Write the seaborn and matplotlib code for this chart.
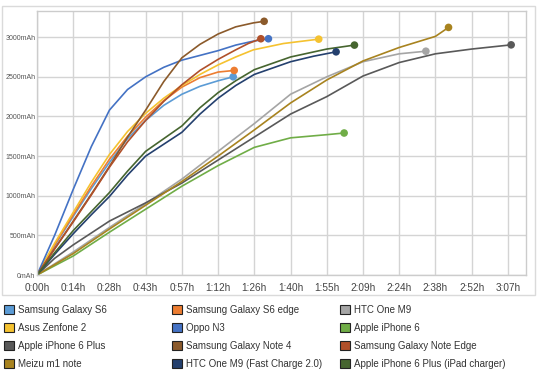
import matplotlib.pyplot as plt
import matplotlib.patches as mpatches
import pandas as pd
import seaborn as sns

sns.set_theme(style="whitegrid")
plt.rcParams['font.family'] = ['Liberation Sans', 'DejaVu Sans']

names = ["Samsung Galaxy S6", "Samsung Galaxy S6 edge", "HTC One M9",
         "Asus Zenfone 2", "Oppo N3", "Apple iPhone 6",
         "Apple iPhone 6 Plus", "Samsung Galaxy Note 4", "Samsung Galaxy Note Edge",
         "Meizu m1 note", "HTC One M9 (Fast Charge 2.0)", "Apple iPhone 6 Plus (iPad charger)"]
colors = ["#5b9bd5", "#ed7d31", "#a5a5a5",
          "#f5c230", "#4472c4", "#70ad47",
          "#595959", "#8b5a2b", "#b0502a",
          "#a8831f", "#24406e", "#46652f"]

# time in minutes, charge in mAh
s6_t = [0, 7, 14.4, 21.6, 28.8, 36, 43.2, 50.4, 57.6, 64.8, 72, 78]
s6_v = [0, 370, 740, 1090, 1420, 1720, 1950, 2140, 2280, 2380, 2450, 2500]
s6e_t = [0, 7, 14.4, 21.6, 28.8, 36, 43.2, 50.4, 57.6, 64.8, 72, 78.4]
s6e_v = [0, 380, 760, 1120, 1460, 1750, 1990, 2200, 2370, 2490, 2560, 2580]
htc_t = [0, 14.4, 28.8, 43.2, 57.6, 72, 86.4, 100.8, 115.2, 129.6, 144, 154.6]
htc_v = [0, 290, 600, 900, 1210, 1560, 1910, 2280, 2500, 2690, 2790, 2823]
asus_t = [0, 7, 14.4, 21.6, 28.8, 36, 43.2, 50.4, 57.6, 64.8, 72, 79, 86, 98, 112]
asus_v = [0, 400, 790, 1170, 1520, 1810, 2040, 2230, 2390, 2530, 2650, 2750, 2840, 2920, 2975]
oppo_t = [0, 7, 14.4, 21.6, 28.8, 36, 43.2, 50.4, 57.6, 64.8, 72, 79, 86, 92]
oppo_v = [0, 500, 1080, 1620, 2080, 2340, 2500, 2620, 2710, 2770, 2830, 2900, 2950, 2980]
ip6_t = [0, 14.4, 28.8, 43.2, 57.6, 72, 86.4, 100.8, 115.2, 122.1]
ip6_v = [0, 240, 540, 830, 1120, 1380, 1610, 1730, 1770, 1791]
ip6p_t = [0, 7, 14.4, 28.8, 43.2, 57.6, 72, 86.4, 100.8, 115.2, 129.6, 144, 158.4, 172.8, 188.5]
ip6p_v = [0, 210, 380, 680, 910, 1160, 1450, 1740, 2030, 2250, 2510, 2680, 2790, 2850, 2903]
note4_t = [0, 7, 14.4, 21.6, 28.8, 36, 43.2, 50.4, 57.6, 64.8, 72, 79, 86, 90.3]
note4_v = [0, 330, 680, 1020, 1370, 1740, 2080, 2440, 2740, 2910, 3040, 3130, 3180, 3200]
nedge_t = [0, 7, 14.4, 21.6, 28.8, 36, 43.2, 50.4, 57.6, 64.8, 72, 79, 84, 89]
nedge_v = [0, 330, 670, 1010, 1360, 1680, 1950, 2190, 2400, 2580, 2720, 2840, 2920, 2980]
meizu_t = [0, 14.4, 28.8, 43.2, 57.6, 72, 86.4, 100.8, 115.2, 129.6, 144, 158.4, 163.6]
meizu_v = [0, 270, 580, 880, 1180, 1500, 1830, 2170, 2460, 2700, 2870, 3010, 3123]
htcf_t = [0, 7, 14.4, 21.6, 28.8, 36, 43.2, 50.4, 57.6, 64.8, 72, 79, 86.4, 100.8, 110, 118.9]
htcf_v = [0, 260, 520, 760, 990, 1260, 1500, 1650, 1800, 2030, 2230, 2390, 2530, 2690, 2760, 2815]
ipad_t = [0, 7, 14.4, 21.6, 28.8, 36, 43.2, 50.4, 57.6, 64.8, 72, 79, 86.4, 100.8, 115.2, 126.2]
ipad_v = [0, 280, 560, 800, 1040, 1310, 1560, 1720, 1880, 2110, 2300, 2450, 2590, 2750, 2850, 2900]

series_t = [s6_t, s6e_t, htc_t, asus_t, oppo_t, ip6_t, ip6p_t, note4_t, nedge_t, meizu_t, htcf_t, ipad_t]
series_v = [s6_v, s6e_v, htc_v, asus_v, oppo_v, ip6_v, ip6p_v, note4_v, nedge_v, meizu_v, htcf_v, ipad_v]

xtick_labels = ["0:00h", "0:14h", "0:28h", "0:43h", "0:57h", "1:12h", "1:26h",
                "1:40h", "1:55h", "2:09h", "2:24h", "2:38h", "2:52h", "3:07h"]
ytick_labels = ["0mAh", "500mAh", "1000mAh", "1500mAh", "2000mAh", "2500mAh", "3000mAh"]

rows = []
for name, ts, vs in zip(names, series_t, series_v):
    for t, v in zip(ts, vs):
        rows.append({'phone': name, 'minutes': t, 'mAh': v})
df = pd.DataFrame(rows)
ends = df.groupby('phone', sort=False).tail(1)
palette = dict(zip(names, colors))

fig = plt.figure(figsize=(5.46, 3.76), dpi=100)
fig.patches.append(mpatches.Rectangle((2 / 546, 81 / 376), 533 / 546, 289 / 376,
                                      transform=fig.transFigure, fill=False,
                                      edgecolor='#dadada', lw=1))
ax = fig.add_axes([37 / 546, 101 / 376, 489 / 546, 264 / 376])

sns.lineplot(data=df, x='minutes', y='mAh', hue='phone', palette=palette,
             sort=False, estimator=None, linewidth=1.2, legend=False, ax=ax)
sns.scatterplot(data=ends, x='minutes', y='mAh', hue='phone', palette=palette,
                s=30, linewidth=0, legend=False, ax=ax, zorder=5)

ax.set_xlim(0, 194.4)
ax.set_ylim(0, 3330)
ax.set_xticks([14.4 * i for i in range(len(xtick_labels))])
ax.set_xticklabels(xtick_labels, fontsize=7.2, color='#444444')
ax.set_yticks([500 * i for i in range(len(ytick_labels))])
ax.set_yticklabels(ytick_labels, fontsize=5, color='#555555')
ax.tick_params(axis='x', pad=6, length=0)
ax.tick_params(axis='y', pad=1, length=0)
ax.set_xlabel('')
ax.set_ylabel('')
ax.grid(True, color='#d4d4d4', linewidth=1)
for sp in ax.spines.values():
    sp.set_color('#cccccc')
    sp.set_linewidth(1)

col_x = [4, 172, 340]
for c in range(3):
    idx = [r * 3 + c for r in range(4)]
    handles = [mpatches.Patch(facecolor=colors[i], edgecolor='#222222', linewidth=0.8,
                              label=names[i]) for i in idx]
    fig.legend(handles=handles, loc='upper left',
               bbox_to_anchor=(col_x[c] / 546, 1 - 305 / 376),
               frameon=False, fontsize=7, handlelength=1.05, handleheight=1.05,
               handletextpad=0.35, labelspacing=0.82, borderpad=0, borderaxespad=0,
               labelcolor='#333333')

fig.savefig('out.png', dpi=100)
